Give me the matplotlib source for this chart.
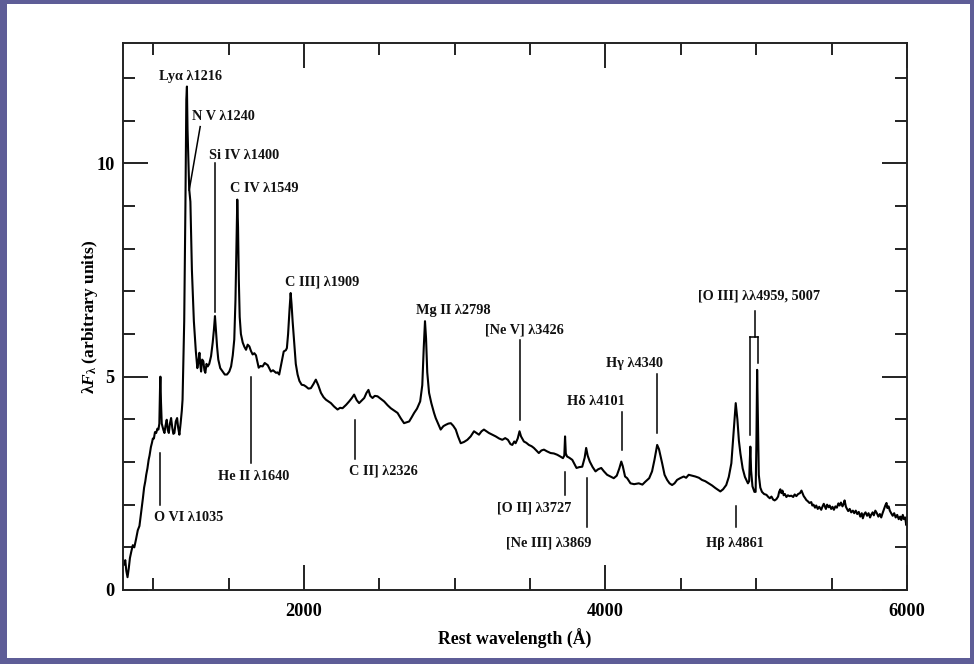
import matplotlib
matplotlib.use("Agg")
import matplotlib.pyplot as plt
from matplotlib.patches import Rectangle
from matplotlib.ticker import MultipleLocator

# ---------------- data ----------------
wavelength = [808, 815, 822, 830, 838, 846, 855, 865, 875, 887, 898, 909, 918, 925, 932, 940, 948, 954,
              962, 970, 976, 985, 992, 998, 1005, 1012, 1020, 1028, 1035, 1041, 1046, 1048, 1052, 1057,
              1062, 1068, 1075, 1082, 1090, 1097, 1104, 1111, 1119, 1127, 1134, 1141, 1150, 1159, 1166,
              1174, 1182, 1190, 1195, 1206, 1214, 1220, 1224, 1228, 1239, 1247, 1257, 1270, 1283, 1293,
              1300, 1307, 1312, 1318, 1325, 1333, 1340, 1346, 1354, 1362, 1372, 1384, 1395, 1403, 1410,
              1416, 1424, 1432, 1445, 1461, 1475, 1490, 1505, 1517, 1528, 1538, 1546, 1552, 1558, 1563,
              1568, 1574, 1582, 1594, 1605, 1616, 1627, 1638, 1649, 1660, 1671, 1682, 1691, 1700, 1712,
              1726, 1740, 1760, 1770, 1781, 1795, 1815, 1825, 1836, 1850, 1866, 1880, 1887, 1895, 1905,
              1912, 1918, 1925, 1936, 1946, 1958, 1970, 1985, 2000, 2013, 2030, 2046, 2062, 2079, 2095,
              2113, 2130, 2146, 2162, 2179, 2200, 2223, 2240, 2256, 2280, 2300, 2318, 2333, 2350, 2366,
              2383, 2400, 2415, 2428, 2440, 2455, 2470, 2488, 2510, 2532, 2555, 2576, 2600, 2621, 2643,
              2664, 2680, 2698, 2715, 2731, 2750, 2771, 2785, 2795, 2803, 2810, 2818, 2830, 2845, 2863,
              2874, 2890, 2907, 2925, 2940, 2958, 2974, 2990, 3007, 3022, 3040, 3062, 3084, 3106, 3128,
              3145, 3161, 3178, 3194, 3210, 3227, 3250, 3272, 3295, 3316, 3335, 3353, 3370, 3382, 3395,
              3404, 3418, 3430, 3440, 3459, 3475, 3492, 3510, 3525, 3542, 3558, 3575, 3592, 3612, 3636,
              3658, 3680, 3700, 3718, 3727, 3732, 3737, 3745, 3760, 3780, 3795, 3808, 3826, 3846, 3862,
              3872, 3882, 3896, 3915, 3934, 3952, 3972, 3990, 4011, 4033, 4055, 4075, 4092, 4105, 4115,
              4130, 4144, 4166, 4190, 4221, 4245, 4265, 4290, 4309, 4325, 4343, 4355, 4376, 4392, 4409,
              4425, 4442, 4458, 4475, 4495, 4519, 4535, 4552, 4575, 4596, 4620, 4640, 4662, 4684, 4707,
              4729, 4745, 4762, 4780, 4801, 4818, 4835, 4850, 4864, 4875, 4885, 4895, 4910, 4925, 4945,
              4953, 4957, 4961, 4966, 4975, 4988, 4996, 5001, 5006, 5011, 5017, 5027, 5038, 5052, 5068,
              5080, 5090, 5101, 5112, 5122, 5134, 5145, 5152, 5160, 5167, 5174, 5182, 5190, 5200, 5210,
              5220, 5233, 5245, 5255, 5266, 5278, 5290, 5300, 5306, 5315, 5325, 5332, 5342, 5353, 5365,
              5372, 5380, 5390, 5398, 5408, 5418, 5431, 5440, 5448, 5454, 5462, 5470, 5480, 5487, 5497,
              5506, 5515, 5525, 5535, 5545, 5553, 5562, 5572, 5580, 5586, 5595, 5602, 5610, 5620, 5630,
              5641, 5650, 5660, 5670, 5680, 5690, 5700, 5707, 5716, 5725, 5735, 5745, 5755, 5762, 5772,
              5780, 5790, 5800, 5810, 5820, 5829, 5838, 5848, 5856, 5864, 5870, 5878, 5886, 5895, 5905,
              5915, 5925, 5935, 5945, 5955, 5962, 5972, 5980, 5988, 5995, 6000]

flux = [0.60, 0.70, 0.45, 0.30, 0.50, 0.75, 0.90, 1.05, 1.00, 1.20, 1.40, 1.50, 1.75, 1.95, 2.15, 2.40, 2.55, 2.70,
        2.85, 3.05, 3.15, 3.35, 3.45, 3.55, 3.55, 3.70, 3.68, 3.78, 3.76, 3.90, 4.80, 5.00, 4.40, 3.90,
        3.83, 3.75, 3.68, 3.85, 3.99, 3.75, 3.68, 3.90, 4.03, 3.80, 3.66, 3.68, 3.95, 4.03, 3.80,
        3.64, 3.90, 4.20, 4.46, 6.30, 9.00, 11.50, 11.80, 10.80, 9.40, 9.10, 7.50, 6.30, 5.60, 5.20,
        5.35, 5.56, 5.30, 5.12, 5.40, 5.36, 5.15, 5.09, 5.30, 5.24, 5.30, 5.48, 5.80, 6.10, 6.42,
        6.10, 5.70, 5.40, 5.20, 5.12, 5.05, 5.05, 5.12, 5.24, 5.50, 5.87, 6.80, 8.00, 9.15, 8.50,
        7.30, 6.40, 6.00, 5.80, 5.70, 5.63, 5.75, 5.71, 5.60, 5.52, 5.55, 5.50, 5.35, 5.21, 5.25,
        5.24, 5.32, 5.27, 5.20, 5.12, 5.15, 5.09, 5.10, 5.05, 5.30, 5.59, 5.62, 5.67, 6.00, 6.60,
        6.96, 6.70, 6.30, 5.79, 5.30, 5.05, 4.90, 4.81, 4.80, 4.77, 4.72, 4.73, 4.82, 4.93, 4.80,
        4.62, 4.52, 4.46, 4.42, 4.38, 4.30, 4.23, 4.27, 4.26, 4.34, 4.42, 4.50, 4.58, 4.45, 4.38,
        4.44, 4.50, 4.62, 4.69, 4.55, 4.50, 4.55, 4.54, 4.48, 4.42, 4.33, 4.26, 4.20, 4.15, 4.02,
        3.91, 3.93, 3.95, 4.05, 4.15, 4.25, 4.42, 4.80, 5.70, 6.30, 5.90, 5.10, 4.62, 4.38, 4.15,
        4.03, 3.90, 3.76, 3.84, 3.87, 3.90, 3.91, 3.85, 3.76, 3.60, 3.44, 3.47, 3.52, 3.60, 3.72,
        3.68, 3.64, 3.72, 3.76, 3.72, 3.68, 3.64, 3.60, 3.55, 3.52, 3.56, 3.52, 3.42, 3.40, 3.48,
        3.44, 3.55, 3.72, 3.60, 3.48, 3.45, 3.40, 3.37, 3.33, 3.27, 3.21, 3.27, 3.29, 3.25, 3.21,
        3.20, 3.17, 3.13, 3.09, 3.15, 3.60, 3.20, 3.13, 3.10, 3.05, 2.95, 2.86, 2.88, 2.89, 3.10,
        3.33, 3.15, 3.01, 2.88, 2.78, 2.83, 2.86, 2.78, 2.70, 2.66, 2.62, 2.68, 2.85, 3.01, 2.90,
        2.66, 2.62, 2.50, 2.48, 2.50, 2.47, 2.54, 2.62, 2.78, 3.05, 3.40, 3.30, 2.97, 2.70, 2.58,
        2.50, 2.46, 2.50, 2.58, 2.62, 2.66, 2.63, 2.70, 2.68, 2.66, 2.63, 2.58, 2.55, 2.50, 2.45,
        2.39, 2.35, 2.31, 2.36, 2.46, 2.65, 2.97, 3.70, 4.38, 4.00, 3.50, 3.20, 2.85, 2.65, 2.50,
        2.55, 3.00, 3.36, 2.80, 2.43, 2.30, 2.30, 3.40, 5.16, 4.00, 2.70, 2.40, 2.30, 2.25, 2.23,
        2.18, 2.15, 2.19, 2.12, 2.10, 2.13, 2.19, 2.30, 2.36, 2.27, 2.33, 2.22, 2.25, 2.18, 2.22,
        2.20, 2.21, 2.18, 2.24, 2.20, 2.25, 2.27, 2.33, 2.28, 2.20, 2.15, 2.11, 2.08, 2.04, 2.06,
        1.98, 2.00, 1.93, 1.98, 1.90, 1.95, 1.88, 1.96, 2.02, 1.97, 1.90, 2.00, 1.94, 1.98, 1.90,
        1.95, 1.88, 1.96, 1.93, 2.03, 1.98, 2.05, 1.96, 2.02, 2.10, 1.95, 1.90, 1.85, 1.90, 1.82,
        1.86, 1.80, 1.86, 1.78, 1.83, 1.72, 1.80, 1.68, 1.78, 1.82, 1.74, 1.80, 1.70, 1.76, 1.82,
        1.75, 1.86, 1.80, 1.72, 1.78, 1.70, 1.80, 1.90, 1.98, 2.04, 1.92, 1.96, 1.86, 1.80, 1.74,
        1.80, 1.70, 1.76, 1.66, 1.72, 1.64, 1.76, 1.66, 1.70, 1.52, 1.60]

# line identifications: text, text position (wavelength, flux)
line_labels = ["Lyα λ1216", "N V λ1240", "Si IV λ1400", "C IV λ1549", "C III] λ1909",
               "Mg II λ2798", "[Ne V] λ3426", "Hδ λ4101", "Hγ λ4340", "[O III] λλ4959, 5007",
               "O VI λ1035", "He II λ1640", "C II] λ2326", "[O II] λ3727", "[Ne III] λ3869",
               "Hβ λ4861"]
label_wl = [1250, 1469, 1603, 1740, 2124, 2993, 3459, 3934, 4190, 5018,
            1234, 1669, 2529, 3525, 3625, 4862]
label_flux = [12.03, 11.09, 10.19, 9.41, 7.23, 6.54, 6.09, 4.41, 5.31, 6.89,
              1.71, 2.65, 2.79, 1.93, 1.11, 1.10]

# marker segments (x0, y0, x1, y1)
mark_x0 = [1312, 1409, 3434, 4107, 4343, 1047, 1652, 2336, 3732, 3876, 4864,
           4989, 4961, 4961, 5011]
mark_y0 = [10.86, 10.00, 5.86, 4.18, 5.06, 3.20, 5.00, 3.98, 2.77, 2.62, 1.97,
           6.54, 5.94, 5.94, 5.94]
mark_x1 = [1239, 1409, 3434, 4107, 4343, 1047, 1652, 2336, 3732, 3876, 4864,
           4989, 5011, 4961, 5011]
mark_y1 = [9.37, 6.52, 3.98, 3.28, 3.67, 1.99, 2.97, 3.06, 2.23, 1.48, 1.48,
           5.94, 5.94, 3.63, 5.31]

x_ticklabels = ["2000", "4000", "6000"]
y_ticklabels = ["0", "5", "10"]

# ---------------- style ----------------
plt.rcParams['font.family'] = ['Liberation Serif', 'DejaVu Serif']
plt.rcParams['font.weight'] = 'bold'
plt.rcParams['mathtext.fontset'] = 'custom'
plt.rcParams['mathtext.rm'] = 'Liberation Serif:bold'
plt.rcParams['mathtext.it'] = 'Liberation Serif:italic:bold'
plt.rcParams['mathtext.bf'] = 'Liberation Serif:bold'

W, H = 974, 664
fig = plt.figure(figsize=(W / 100, H / 100), dpi=100)
fig.patch.set_facecolor('#5e5d97')
fig.patches.append(Rectangle((7 / W, (H - 658) / H), (970 - 7) / W, (658 - 4) / H,
                             transform=fig.transFigure, facecolor='white',
                             edgecolor='none', zorder=-10))

ax = fig.add_axes([123 / W, (H - 590) / H, (907 - 123) / W, (590 - 43) / H])
ax.set_zorder(5)
ax.set_facecolor('white')
ax.plot(wavelength, flux, color='black', lw=1.5, solid_joinstyle='round')

for x0, y0, x1, y1 in zip(mark_x0, mark_y0, mark_x1, mark_y1):
    ax.plot([x0, x1], [y0, y1], color='black', lw=1.1)

for t, x, y in zip(line_labels, label_wl, label_flux):
    ax.text(x, y, t, ha='center', va='center', fontsize=10.3, fontweight='bold', color='#111111')

ax.set_xlim(800, 6000)
ax.set_ylim(0, 12.82)
ax.set_xticks([2000, 4000, 6000])
ax.set_xticklabels(x_ticklabels)
ax.set_yticks([0, 5, 10])
ax.set_yticklabels(y_ticklabels)
ax.xaxis.set_minor_locator(MultipleLocator(500))
ax.yaxis.set_minor_locator(MultipleLocator(1))
ax.tick_params(which='both', direction='in', top=True, right=True, width=1.4, color='#222222')
ax.tick_params(which='major', length=18, labelsize=13.2)
ax.tick_params(axis='x', which='major', pad=9)
ax.tick_params(axis='y', which='major', pad=6)
ax.tick_params(which='minor', length=8.5)
for s in ax.spines.values():
    s.set_linewidth(1.4)
    s.set_color('#222222')

ax.set_xlabel('Rest wavelength (Å)', fontsize=12.8, fontweight='bold')
ax.xaxis.set_label_coords(0.5, -0.071)
ax.set_ylabel(r'$\mathrm{\lambda}\mathit{F}_{\mathrm{\lambda}}$ (arbitrary units)', fontsize=12.5,
              fontweight='bold')
ax.yaxis.set_label_coords(-0.042, 0.5)
ax.yaxis.label.set_va('center')

fig.savefig('out.png', dpi=100, facecolor=fig.get_facecolor())
